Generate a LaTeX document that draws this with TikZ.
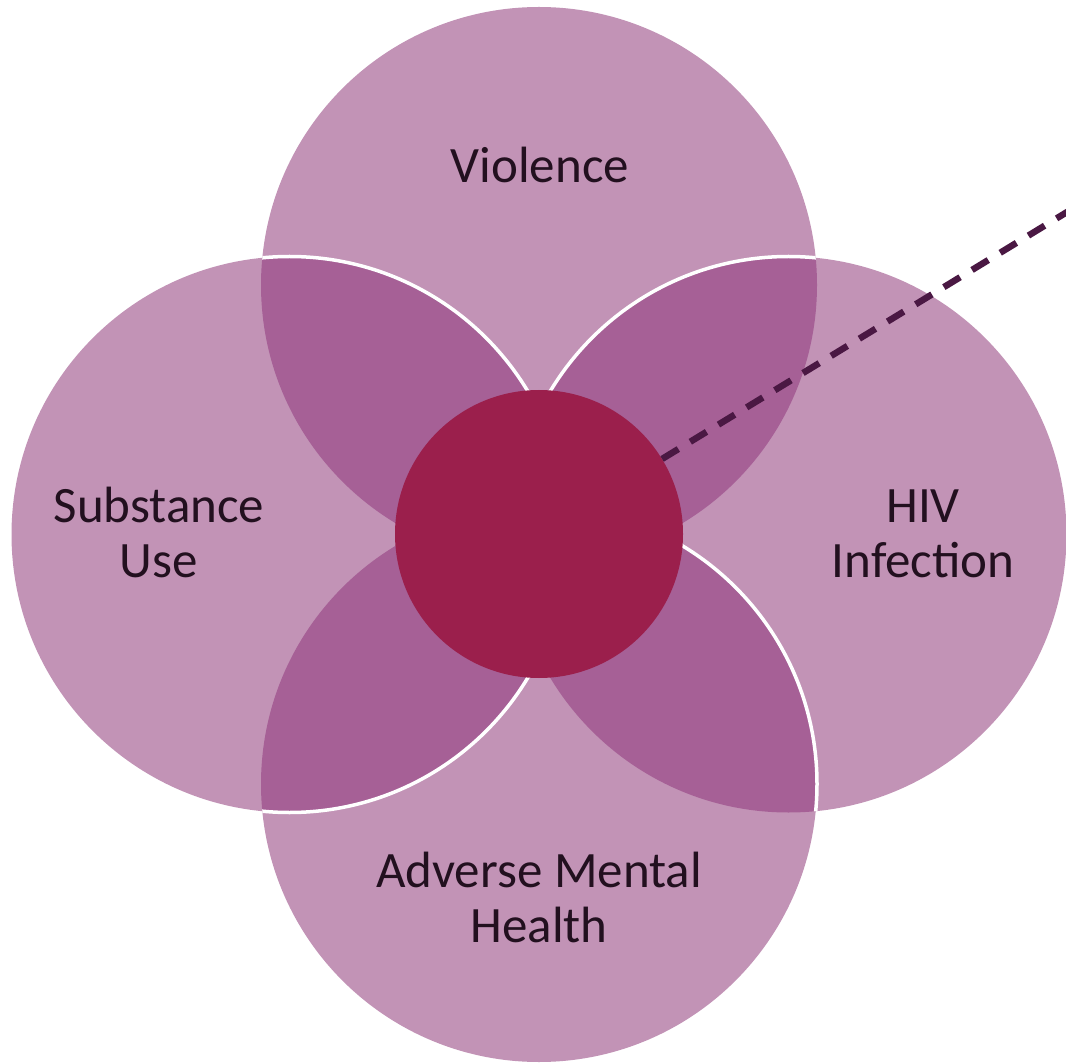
\documentclass[tikz,border=0pt]{standalone}
\usepackage{fontspec}
\setmainfont{Carlito}
\definecolor{circfill}{HTML}{C293B6}
\definecolor{lensfill}{HTML}{A66096}
\definecolor{ctrfill}{HTML}{9B1F4C}
\definecolor{dashcol}{HTML}{4A1843}
\definecolor{txtcol}{HTML}{22101F}
\tikzset{
  petal/.style={fill=circfill},
  lens/.style={fill=lensfill},
  rim/.style={draw=white, line width=3.5pt},
  lbl/.style={text=txtcol, align=center, anchor=base, inner sep=0pt,
    font=\fontsize{51}{55}\selectfont},
  link/.style={draw=dashcol, line width=6.5pt, dash pattern=on 19pt off 14pt}
}
\begin{document}
\begin{tikzpicture}[x=1pt,y=-1pt]
\useasboundingbox (0,0) rectangle (1066,1064);
\coordinate (T) at (539,285);
\coordinate (B) at (539,784);
\coordinate (L) at (289.5,534.5);
\coordinate (R) at (788.5,534.5);
\def\rad{278pt}
% base circles
\fill[petal] (T) circle (\rad);
\fill[petal] (R) circle (\rad);
\fill[petal] (B) circle (\rad);
\fill[petal] (L) circle (\rad);
% lenses
\begin{scope}
  \clip (T) circle (\rad);
  \fill[lens] (L) circle (\rad);
  \fill[lens] (R) circle (\rad);
  \draw[rim] (L) circle (\rad);
  \draw[rim] (R) circle (\rad);
\end{scope}
\begin{scope}
  \clip (B) circle (\rad);
  \fill[lens] (L) circle (\rad);
  \fill[lens] (R) circle (\rad);
  \draw[rim] (L) circle (\rad);
\end{scope}
\begin{scope}
  \clip (R) circle (\rad);
  \draw[rim] (B) circle (\rad);
\end{scope}
% centre
\node[circle, fill=ctrfill, minimum size=288pt, inner sep=0pt] (ctr) at (539,534) {};
\coordinate (far) at (1072,209);
\draw[link] (ctr) -- (far);
% labels
\node[lbl] (viol) at (540,183) {Violence};
\node[lbl] (subst) at (159,577) {Substance\\Use};
\node[lbl] (hiv) at (923,577) {HIV\\Infection};
\node[lbl] (amh) at (539,942) {Adverse Mental\\Health};
\end{tikzpicture}
\end{document}
